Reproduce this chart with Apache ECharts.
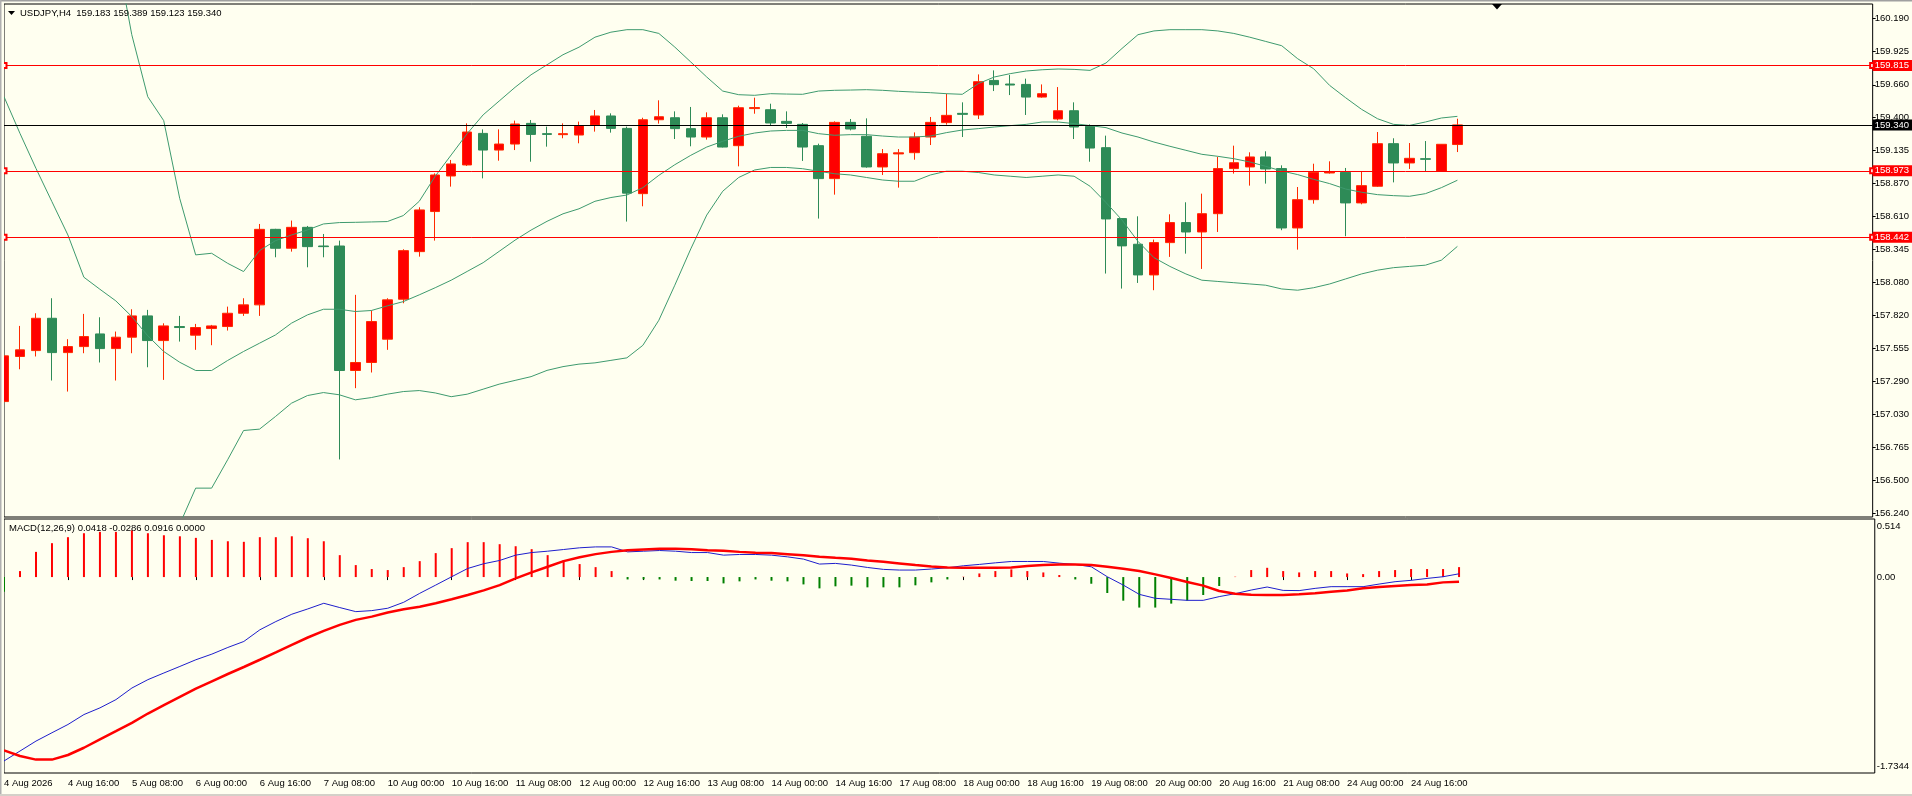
<!DOCTYPE html>
<html><head><meta charset="utf-8">
<script src="https://cdn.jsdelivr.net/npm/echarts@6.0.0/dist/echarts.min.js"></script>
<style>html,body{margin:0;padding:0;background:#FFFFF0;overflow:hidden}#c{width:1912px;height:796px}</style>
</head><body><div id="c"></div><script>
// ---- time axis ----
const days = ['4 Aug','5 Aug','6 Aug','7 Aug','10 Aug','11 Aug','12 Aug','13 Aug','14 Aug','17 Aug','18 Aug','19 Aug','20 Aug','21 Aug','24 Aug','25 Aug'];
const hours = ['00:00','04:00','08:00','12:00','16:00','20:00'];
const barCount = 92;
const futureSlots = 26;
const firstLabel = '4 Aug 2026';

// ---- OHLC ----
const open = [157.131,157.491,157.538,157.796,157.522,157.570,157.671,157.554,157.645,157.815,157.618,157.730,157.661,157.714,157.730,157.836,157.903,158.506,158.355,158.522,158.373,158.373,157.379,157.443,157.629,157.948,158.328,158.648,158.932,159.020,159.272,159.139,159.187,159.352,159.270,159.262,159.259,159.339,159.411,159.312,158.791,159.381,159.397,159.310,159.243,159.397,159.174,159.470,159.461,159.368,159.344,159.174,158.911,159.360,159.249,159.004,159.108,159.118,159.243,159.358,159.432,159.419,159.695,159.666,159.663,159.562,159.387,159.453,159.328,159.158,158.592,158.387,158.142,158.400,158.560,158.485,158.631,158.991,159.004,159.084,158.991,158.517,158.743,158.956,158.961,158.717,158.850,159.190,159.036,159.070,158.969,159.183];
const high = [157.500,157.735,157.836,157.956,157.629,157.831,157.804,157.690,157.868,157.863,157.756,157.815,157.751,157.743,157.889,157.956,158.549,158.510,158.576,158.533,158.469,158.416,157.983,157.858,157.956,158.347,158.682,158.953,159.060,159.352,159.304,159.304,159.374,159.379,159.326,159.352,159.366,159.459,159.432,159.326,159.397,159.536,159.448,159.483,159.440,159.424,159.493,159.557,159.509,159.448,159.355,159.190,159.368,159.387,159.392,159.147,159.147,159.280,159.403,159.589,159.520,159.743,159.775,159.738,159.709,159.663,159.642,159.520,159.344,159.254,158.592,158.610,158.424,158.626,158.722,158.791,159.084,159.174,159.121,159.129,159.017,158.844,159.030,159.049,158.996,158.969,159.283,159.233,159.195,159.211,159.187,159.389];
const low = [157.092,157.389,157.491,157.299,157.211,157.517,157.443,157.299,157.517,157.405,157.304,157.610,157.544,157.581,157.698,157.815,157.815,158.283,158.328,158.203,158.283,156.669,157.238,157.363,157.544,157.916,158.288,158.416,158.847,159.012,158.913,159.054,159.139,159.046,159.166,159.233,159.193,159.286,159.278,158.568,158.690,159.350,159.227,159.169,159.222,159.160,159.009,159.429,159.334,159.315,159.052,158.592,158.783,159.296,158.998,158.940,158.839,159.062,159.179,159.342,159.243,159.387,159.610,159.578,159.419,159.557,159.376,159.227,159.046,158.153,158.033,158.078,158.020,158.286,158.312,158.190,158.485,158.951,158.855,158.871,158.499,158.344,158.711,158.951,158.451,158.706,158.844,158.881,158.988,158.964,158.969,159.123];
const close = [157.496,157.544,157.796,157.522,157.570,157.650,157.554,157.645,157.815,157.618,157.735,157.722,157.722,157.735,157.836,157.903,158.506,158.355,158.522,158.368,158.368,157.379,157.443,157.770,157.943,158.336,158.661,158.940,159.028,159.283,159.139,159.187,159.347,159.264,159.264,159.270,159.334,159.411,159.312,158.795,159.381,159.405,159.310,159.243,159.397,159.163,159.477,159.478,159.355,159.352,159.163,158.911,159.360,159.307,159.004,159.110,159.117,159.243,159.360,159.416,159.424,159.685,159.661,159.658,159.562,159.589,159.453,159.323,159.155,158.589,158.374,158.142,158.400,158.560,158.485,158.631,158.991,159.038,159.084,158.988,158.517,158.743,158.961,158.964,158.717,158.855,159.190,159.036,159.073,159.065,159.185,159.340];

// ---- Bollinger bands ----
const bbUpper = [163.3,163.0,162.6,162.2,161.9,161.5,161.2,160.75,160.06,159.565,159.374,158.754,158.302,158.315,158.235,158.169,158.336,158.416,158.461,158.501,158.549,158.560,158.562,158.565,158.568,158.616,158.73,158.93,159.10,159.27,159.42,159.53,159.64,159.74,159.82,159.90,159.96,160.04,160.08,160.10,160.10,160.07,159.961,159.842,159.722,159.610,159.581,159.576,159.589,159.586,159.584,159.610,159.616,159.618,159.621,159.616,159.608,159.602,159.597,159.589,159.584,159.669,159.722,159.749,159.770,159.780,159.786,159.783,159.775,159.834,159.950,160.06,160.09,160.10,160.10,160.10,160.09,160.07,160.04,160.006,159.972,159.868,159.788,159.655,159.557,159.464,159.389,159.344,159.336,159.363,159.395,159.408];
const bbMiddle = [159.565,159.272,158.993,158.727,158.461,158.124,158.028,157.935,157.810,157.656,157.531,157.445,157.379,157.379,157.459,157.531,157.597,157.663,157.757,157.823,157.868,157.868,157.850,157.858,157.895,157.929,157.983,158.04,158.10,158.17,158.24,158.33,158.42,158.50,158.57,158.63,158.67,158.73,158.76,158.78,158.839,158.937,159.022,159.097,159.163,159.209,159.249,159.275,159.291,159.296,159.296,159.270,159.257,159.262,159.262,159.251,159.243,159.243,159.251,159.278,159.299,159.310,159.323,159.334,159.344,159.363,159.363,159.350,159.334,159.318,159.275,159.243,159.203,159.169,159.137,159.105,159.089,159.070,159.044,159.009,158.972,158.943,158.905,158.871,158.828,158.802,158.783,158.775,158.770,158.791,158.839,158.898];
const bbLower = [155.8,155.55,155.4,155.25,155.0,154.75,154.85,155.1,155.55,155.75,155.69,156.15,156.44,156.44,156.666,156.900,156.911,157.012,157.118,157.179,157.203,157.185,157.145,157.163,157.190,157.211,157.219,157.20,157.17,157.19,157.23,157.27,157.30,157.33,157.38,157.41,157.43,157.44,157.46,157.48,157.58,157.78,158.06,158.35,158.62,158.81,158.92,158.98,159.00,159.00,158.99,158.97,158.95,158.94,158.92,158.90,158.89,158.89,158.94,158.97,158.97,158.96,158.94,158.93,158.92,158.93,158.94,158.93,158.85,158.72,158.58,158.41,158.28,158.21,158.15,158.10,158.09,158.08,158.07,158.06,158.03,158.02,158.04,158.07,158.11,158.15,158.18,158.20,158.21,158.22,158.26,158.37];

// ---- MACD ----
const macdHist = [-0.129,0.053,0.223,0.300,0.353,0.388,0.400,0.400,0.414,0.388,0.370,0.361,0.347,0.329,0.317,0.312,0.353,0.353,0.361,0.344,0.317,0.194,0.106,0.071,0.062,0.088,0.141,0.212,0.256,0.309,0.309,0.291,0.273,0.247,0.194,0.150,0.115,0.088,0.053,-0.021,-0.021,-0.021,-0.032,-0.035,-0.035,-0.056,-0.038,-0.021,-0.032,-0.038,-0.065,-0.100,-0.082,-0.076,-0.091,-0.091,-0.091,-0.073,-0.047,-0.021,0.003,0.032,0.053,0.068,0.053,0.041,0.018,-0.021,-0.059,-0.141,-0.209,-0.270,-0.270,-0.235,-0.209,-0.159,-0.079,0.003,0.062,0.082,0.053,0.041,0.053,0.053,0.032,0.026,0.053,0.062,0.071,0.071,0.071,0.088];
const macdMain = [-1.628,-1.540,-1.452,-1.378,-1.305,-1.217,-1.158,-1.085,-0.982,-0.908,-0.849,-0.791,-0.732,-0.682,-0.623,-0.570,-0.467,-0.394,-0.329,-0.282,-0.232,-0.270,-0.306,-0.297,-0.276,-0.223,-0.144,-0.071,0.003,0.076,0.118,0.147,0.194,0.217,0.229,0.244,0.259,0.267,0.267,0.223,0.229,0.235,0.229,0.217,0.217,0.194,0.200,0.200,0.194,0.179,0.159,0.115,0.121,0.106,0.085,0.068,0.062,0.062,0.071,0.082,0.100,0.112,0.126,0.138,0.138,0.138,0.123,0.112,0.091,0.003,-0.071,-0.153,-0.188,-0.197,-0.206,-0.206,-0.173,-0.147,-0.115,-0.088,-0.118,-0.120,-0.100,-0.085,-0.085,-0.085,-0.062,-0.041,-0.029,-0.012,0.003,0.029];
const macdSignal = [-1.534,-1.584,-1.616,-1.616,-1.575,-1.511,-1.437,-1.364,-1.290,-1.208,-1.134,-1.061,-0.988,-0.923,-0.858,-0.796,-0.732,-0.667,-0.600,-0.535,-0.476,-0.423,-0.379,-0.350,-0.314,-0.285,-0.262,-0.232,-0.197,-0.159,-0.118,-0.071,-0.012,0.041,0.091,0.141,0.176,0.203,0.223,0.238,0.244,0.250,0.250,0.247,0.238,0.232,0.223,0.215,0.212,0.203,0.194,0.179,0.170,0.162,0.147,0.135,0.121,0.106,0.094,0.085,0.082,0.082,0.082,0.085,0.097,0.106,0.112,0.112,0.106,0.091,0.073,0.053,0.024,-0.009,-0.044,-0.076,-0.123,-0.147,-0.157,-0.159,-0.159,-0.153,-0.144,-0.129,-0.118,-0.100,-0.088,-0.079,-0.071,-0.065,-0.047,-0.041];

// ---- levels & ticks ----
const levelLines = [159.815, 158.973, 158.442];
const bidPrice = 159.340;
const priceTicks = [156.240,156.500,156.765,157.030,157.290,157.555,157.820,158.080,158.345,158.610,158.870,159.135,159.400,159.660,159.925,160.190];
const macdTickPos = [0.45, 0, -1.68];
const macdTickLabels = ['0.514', '0.00', '-1.7344'];
const headerText = 'USDJPY,H4  159.183 159.389 159.123 159.340';
const macdHeader = 'MACD(12,26,9) 0.0418 -0.0286 0.0916 0.0000';

// ---- build ----
const barTimes = days.flatMap(d => hours.map(h => d + ' ' + h)).slice(0, barCount);
const categories = barTimes.concat(Array(futureSlots).fill(''));
const candleData = open.map((o, i) => [o, close[i], low[i], high[i]]);
const FONT = 'Liberation Sans, Arial, sans-serif';
const FS = 9.5;
const BG = '#FFFFF0';
const tickShow = (i, v) => v !== '' && i % 4 === 0;

const lineLabel = bg => ({ show: true, position: 'end', distance: 0, formatter: p => Number(p.value).toFixed(3), color: '#fff', backgroundColor: bg, padding: [1, 3, 0, 2], fontSize: FS, fontFamily: FONT });

const chart = echarts.init(document.getElementById('c'), null, { renderer: 'canvas' });
const bandStyle = { color: '#3E9A6E', width: 1 };
chart.setOption({
  animation: false,
  backgroundColor: BG,
  grid: [
    { left: 4, right: 36, top: 4, height: 513, show: true, borderColor: '#000', borderWidth: 1, backgroundColor: 'transparent' },
    { left: 4, right: 36, top: 519, height: 254, show: true, borderColor: '#000', borderWidth: 1, backgroundColor: 'transparent' }
  ],
  xAxis: [
    { type: 'category', gridIndex: 0, data: categories, boundaryGap: false, axisLine: { show: false }, axisTick: { show: false }, axisLabel: { show: false }, splitLine: { show: false } },
    { type: 'category', gridIndex: 1, data: categories, boundaryGap: false, axisLine: { show: false },
      axisTick: { show: true, interval: tickShow, length: 3, lineStyle: { color: '#000' } },
      axisLabel: { interval: tickShow, align: 'left', margin: 5, fontSize: FS, fontFamily: FONT, color: '#000', formatter: (v, i) => (i === 0 ? firstLabel : v) },
      splitLine: { show: false } }
  ],
  yAxis: [
    { type: 'value', gridIndex: 0, position: 'right', min: 156.2095, max: 160.305, axisLine: { show: false },
      axisTick: { show: true, customValues: priceTicks, length: 3, lineStyle: { color: '#000' } },
      axisLabel: { customValues: priceTicks, margin: 2, fontSize: FS, fontFamily: FONT, color: '#000', formatter: v => v.toFixed(3) },
      splitLine: { show: false } },
    { type: 'value', gridIndex: 1, position: 'right', min: -1.7344, max: 0.514, axisLine: { show: false }, axisTick: { show: false },
      axisLabel: { customValues: macdTickPos, margin: 2, fontSize: FS, fontFamily: FONT, color: '#000',
        formatter: v => { let k = 0; macdTickPos.forEach((p, j) => { if (Math.abs(p - v) < Math.abs(macdTickPos[k] - v)) k = j; }); return macdTickLabels[k]; } },
      splitLine: { show: false } }
  ],
  graphic: [
    { type: 'rect', z: 100, shape: { x: 0, y: 3, width: 4, height: 772 }, style: { fill: BG }, silent: true },
    { type: 'rect', z: 101, shape: { x: 0, y: 0, width: 1912, height: 1.5 }, style: { fill: '#A0A0A0' }, silent: true },
    { type: 'rect', z: 101, shape: { x: 0, y: 0, width: 1.5, height: 796 }, style: { fill: '#B0B0B0' }, silent: true },
    { type: 'rect', z: 101, shape: { x: 0, y: 794, width: 1912, height: 2 }, style: { fill: '#D4D0C8' }, silent: true },
    { type: 'polygon', z: 101, shape: { points: [[8, 11], [15, 11], [11.5, 15]] }, style: { fill: '#000' }, silent: true },
    { type: 'text', z: 101, x: 20, y: 13, style: { text: headerText, fontSize: FS, fontFamily: FONT, fill: '#000', verticalAlign: 'middle' }, silent: true },
    { type: 'text', z: 101, x: 9, y: 528, style: { text: macdHeader, fontSize: FS, fontFamily: FONT, fill: '#000', verticalAlign: 'middle' }, silent: true },
    { type: 'polygon', z: 101, shape: { points: [[1492, 4], [1502, 4], [1497, 9.5]] }, style: { fill: '#000' }, silent: true }
  ],
  series: [
    { name: 'USDJPY', type: 'candlestick', xAxisIndex: 0, yAxisIndex: 0, data: candleData, barWidth: 10, clip: true,
      itemStyle: { color: '#FF0000', color0: '#2E8B57', borderColor: '#FF2A00', borderColor0: '#2E8B57', borderWidth: 1 },
      markLine: { silent: true, animation: false, precision: 3, symbol: ['emptyRect', 'emptyRect'], symbolSize: 5,
        lineStyle: { color: '#FF0000', width: 1, type: 'solid' }, label: lineLabel('#FF0000'),
        data: levelLines.map(v => ({ yAxis: v })) } },
    { name: 'BB upper', type: 'line', xAxisIndex: 0, yAxisIndex: 0, data: bbUpper, symbol: 'none', lineStyle: bandStyle, z: 3, clip: true, silent: true,
      markLine: { silent: true, animation: false, precision: 3, symbol: ['none', 'none'],
        lineStyle: { color: '#000', width: 1, type: 'solid' }, label: lineLabel('#000'),
        data: [{ yAxis: bidPrice }] } },
    { name: 'BB middle', type: 'line', xAxisIndex: 0, yAxisIndex: 0, data: bbMiddle, symbol: 'none', lineStyle: bandStyle, z: 3, clip: true, silent: true },
    { name: 'BB lower', type: 'line', xAxisIndex: 0, yAxisIndex: 0, data: bbLower, symbol: 'none', lineStyle: bandStyle, z: 3, clip: true, silent: true },
    { name: 'MACD hist', type: 'bar', xAxisIndex: 1, yAxisIndex: 1, data: macdHist, barWidth: 2,
      itemStyle: { color: p => (p.value >= 0 ? '#FF0000' : '#008000') }, silent: true },
    { name: 'MACD', type: 'line', xAxisIndex: 1, yAxisIndex: 1, data: macdMain, symbol: 'none', lineStyle: { color: '#1E1ECC', width: 1 }, z: 3, silent: true },
    { name: 'Signal', type: 'line', xAxisIndex: 1, yAxisIndex: 1, data: macdSignal, symbol: 'none', lineStyle: { color: '#FF0000', width: 2.5 }, z: 4, silent: true }
  ]
});
</script></body></html>
